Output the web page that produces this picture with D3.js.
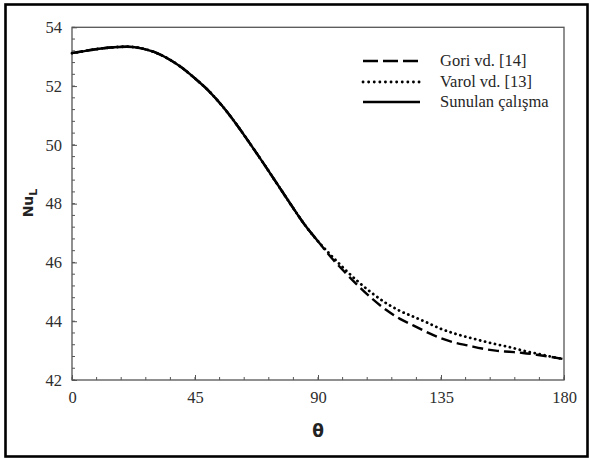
<!DOCTYPE html>
<html>
<head>
<meta charset="utf-8">
<script src="https://cdn.jsdelivr.net/npm/d3@7/dist/d3.min.js"></script>
<style>
  html, body { margin: 0; padding: 0; background: #fff; }
  svg { display: block; }
</style>
</head>
<body>
<svg id="chart" width="590" height="459"></svg>
<script>
// Local Nusselt number around the cylinder versus angle θ
const thetaCommon = [0, 5, 10, 15, 20, 25, 30, 35, 40, 45, 50, 55, 60, 65, 70, 75, 80, 85, 90];
const nuCommon = [53.12, 53.20, 53.27, 53.32, 53.34, 53.29, 53.16, 52.94, 52.64, 52.26, 51.84, 51.32, 50.72, 50.06, 49.38, 48.68, 47.98, 47.30, 46.72];

const thetaTail = [95, 100, 105, 110, 115, 120, 125, 130, 135, 140, 145, 150, 155, 160, 165, 170, 175, 180];
const nuGoriTail = [46.15, 45.65, 45.18, 44.75, 44.38, 44.08, 43.85, 43.62, 43.42, 43.27, 43.17, 43.07, 43.00, 42.96, 42.92, 42.86, 42.79, 42.71];
const nuVarolTail = [46.22, 45.75, 45.32, 44.94, 44.61, 44.35, 44.15, 43.95, 43.74, 43.58, 43.45, 43.33, 43.22, 43.12, 43.00, 42.90, 42.80, 42.71];

const seriesNames = ["Gori vd. [14]", "Varol vd. [13]", "Sunulan çalışma"];
const xTicks = [0, 45, 90, 135, 180];
const yTicks = [42, 44, 46, 48, 50, 52, 54];

const toPoints = (xs, ys) => xs.map((t, i) => ({ t, v: ys[i] }));
const gori = toPoints(thetaCommon.concat(thetaTail), nuCommon.concat(nuGoriTail));
const varol = toPoints(thetaCommon.concat(thetaTail), nuCommon.concat(nuVarolTail));
const sunulan = toPoints(thetaCommon, nuCommon);

const svg = d3.select("#chart");
const plot = { left: 72, right: 564, top: 27.3, bottom: 380 };

// outer frame
svg.append("rect")
  .attr("x", 5.5).attr("y", 4.5)
  .attr("width", 582).attr("height", 452)
  .attr("fill", "none").attr("stroke", "#000").attr("stroke-width", 2.6);

const x = d3.scaleLinear().domain([0, 180]).range([plot.left, plot.right]);
const y = d3.scaleLinear().domain([42, 54]).range([plot.bottom, plot.top]);

const tickFont = "'Liberation Serif', 'Times New Roman', serif";

// plot area border
svg.append("rect")
  .attr("x", plot.left).attr("y", plot.top)
  .attr("width", plot.right - plot.left).attr("height", plot.bottom - plot.top)
  .attr("fill", "none").attr("stroke", "#555").attr("stroke-width", 1.3);

// minor ticks, drawn inward
const xMinor = d3.range(0, 181, 9);
const yMinor = d3.range(42, 54.001, 0.4);
svg.append("g").selectAll("line").data(xMinor).join("line")
  .attr("x1", d => x(d)).attr("x2", d => x(d))
  .attr("y1", plot.bottom).attr("y2", plot.bottom - 3)
  .attr("stroke", "#555").attr("stroke-width", 1);
svg.append("g").selectAll("line").data(yMinor).join("line")
  .attr("x1", plot.left).attr("x2", plot.left + 3)
  .attr("y1", d => y(d)).attr("y2", d => y(d))
  .attr("stroke", "#555").attr("stroke-width", 1);

// x axis with major ticks pointing inward
const xAxis = svg.append("g")
  .attr("transform", `translate(0,${plot.bottom})`)
  .call(d3.axisBottom(x).tickValues(xTicks).tickSize(-5).tickPadding(11).tickFormat(d3.format("d")));
xAxis.select(".domain").remove();
xAxis.selectAll(".tick line").attr("stroke", "#555");
xAxis.selectAll("text")
  .attr("font-family", tickFont).attr("font-size", 16.5).attr("fill", "#2e2e2e");

// y axis with major ticks pointing inward
const yAxis = svg.append("g")
  .attr("transform", `translate(${plot.left},0)`)
  .call(d3.axisLeft(y).tickValues(yTicks).tickSize(-5).tickPadding(10).tickFormat(d3.format("d")));
yAxis.select(".domain").remove();
yAxis.selectAll(".tick line").attr("stroke", "#555");
yAxis.selectAll("text")
  .attr("font-family", tickFont).attr("font-size", 16.5).attr("fill", "#2e2e2e");

// curves
const line = d3.line().x(d => x(d.t)).y(d => y(d.v)).curve(d3.curveMonotoneX);
const styles = [
  { data: gori, dash: "11,5", cap: "butt" },
  { data: varol, dash: "0.1,5", cap: "round" },
  { data: sunulan, dash: null, cap: "butt" }
];
svg.append("g").selectAll("path").data(styles).join("path")
  .attr("d", d => line(d.data))
  .attr("fill", "none")
  .attr("stroke", "#000")
  .attr("stroke-width", d => d.cap === "round" ? 2.8 : 2.4)
  .attr("stroke-linecap", d => d.cap)
  .attr("stroke-dasharray", d => d.dash);

// legend
const legend = svg.append("g");
const legendRows = [61, 82, 102];
seriesNames.forEach((name, i) => {
  legend.append("line")
    .attr("x1", 363).attr("x2", 420)
    .attr("y1", legendRows[i]).attr("y2", legendRows[i])
    .attr("stroke", "#000").attr("stroke-width", i === 1 ? 2.8 : 2.4)
    .attr("stroke-linecap", styles[i].cap)
    .attr("stroke-dasharray", i === 0 ? "15,5" : (i === 1 ? "0.1,5.5" : null));
  legend.append("text")
    .attr("x", 440).attr("y", legendRows[i] + 5)
    .attr("font-family", tickFont).attr("font-size", 16.5)
    .attr("fill", "#262626")
    .text(name);
});

// axis titles
svg.append("text")
  .attr("x", (plot.left + plot.right) / 2).attr("y", 437)
  .attr("text-anchor", "middle")
  .attr("font-family", "'DejaVu Sans', sans-serif").attr("font-weight", "bold")
  .attr("font-size", 17).attr("fill", "#222")
  .text("θ");

const yTitle = svg.append("text")
  .attr("transform", `translate(33,203) rotate(-90)`)
  .attr("text-anchor", "middle")
  .attr("font-family", "'DejaVu Sans', sans-serif").attr("font-weight", "bold")
  .attr("font-size", 14).attr("fill", "#222");
yTitle.append("tspan").text("Nu");
yTitle.append("tspan").attr("font-size", 11).attr("dy", 4).text("L");
</script>
</body>
</html>
